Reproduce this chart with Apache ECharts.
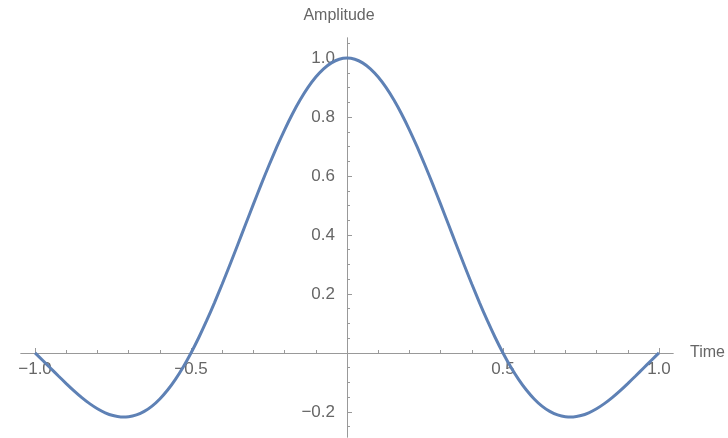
<!DOCTYPE html>
<html>
<head>
<meta charset="utf-8">
<script src="https://cdn.jsdelivr.net/npm/echarts@6/dist/echarts.min.js"></script>
<style>html,body{margin:0;padding:0;background:#fff;}#c{width:728px;height:438px;}</style>
</head>
<body>
<div id="c"></div>
<script>
var times = [-1.0,-0.975,-0.95,-0.925,-0.9,-0.875,-0.85,-0.825,-0.8,-0.775,-0.75,-0.725,-0.7,-0.675,-0.65,-0.625,-0.6,-0.575,-0.55,-0.525,
  -0.5,-0.475,-0.45,-0.425,-0.4,-0.375,-0.35,-0.325,-0.3,-0.275,-0.25,-0.225,-0.2,-0.175,-0.15,-0.125,-0.1,-0.075,-0.05,-0.025,0,
  0.025,0.05,0.075,0.1,0.125,0.15,0.175,0.2,0.225,0.25,0.275,0.3,0.325,0.35,0.375,0.4,0.425,0.45,0.475,
  0.5,0.525,0.55,0.575,0.6,0.625,0.65,0.675,0.7,0.725,0.75,0.775,0.8,0.825,0.85,0.875,0.9,0.925,0.95,0.975,1.0];
var amplitude = [0,-0.0255,-0.0518,-0.0781,-0.1039,-0.1286,-0.1515,-0.1719,-0.1892,-0.2028,-0.2122,-0.2168,-0.2162,-0.2101,-0.1981,-0.1801,-0.1559,-0.1257,-0.0894,-0.0474,
  0,0.0524,0.1093,0.1700,0.2339,0.3001,0.3679,0.4363,0.5046,0.5716,0.6366,0.6987,0.7568,0.8103,0.8584,0.9003,0.9355,0.9634,0.9836,0.9959,1.0,
  0.9959,0.9836,0.9634,0.9355,0.9003,0.8584,0.8103,0.7568,0.6987,0.6366,0.5716,0.5046,0.4363,0.3679,0.3001,0.2339,0.1700,0.1093,0.0524,
  0,-0.0474,-0.0894,-0.1257,-0.1559,-0.1801,-0.1981,-0.2101,-0.2162,-0.2168,-0.2122,-0.2028,-0.1892,-0.1719,-0.1515,-0.1286,-0.1039,-0.0781,-0.0518,-0.0255,0];
var xMajorTicks = [-1.0,-0.5,0.5,1.0];
var xMinorTicks = [-0.9,-0.8,-0.7,-0.6,-0.4,-0.3,-0.2,-0.1,0.1,0.2,0.3,0.4,0.6,0.7,0.8,0.9];
var yMajorTicks = [-0.2,0.2,0.4,0.6,0.8,1.0];
var yMinorTicks = [-0.25,-0.15,-0.1,-0.05,0.05,0.1,0.15,0.25,0.3,0.35,0.45,0.5,0.55,0.65,0.7,0.75,0.85,0.9,0.95,1.05];
var xName = 'Time', yName = 'Amplitude';

var fmt = function (v) { var s = Math.abs(v).toFixed(1); return (v < 0 ? '\u2212' : '') + s; };
var font = '"Liberation Sans", Arial, sans-serif';
var fs = 17, nameFs = 16;
var axisCol = '#999999', txtCol = '#666666';
var xRange = [-1.045, 1.045], yRange = [-0.285, 1.068];
// axis crossing offsets (pixels from grid edge to the zero line)
var xAxisOffset = -84, yAxisOffset = -326;

function xAx(ticks, len, labels, withName) {
  return {
    type: 'value', min: xRange[0], max: xRange[1], gridIndex: 0, position: 'bottom', offset: xAxisOffset,
    name: withName ? xName : '', nameLocation: 'end', nameGap: 17,
    nameTextStyle: { color: txtCol, fontFamily: font, fontSize: nameFs, verticalAlign: 'middle' },
    axisLine: { show: true, onZero: false, lineStyle: { color: axisCol, width: 1 } },
    axisTick: { show: true, inside: true, length: len, customValues: ticks, lineStyle: { color: axisCol } },
    axisLabel: labels ? { show: true, customValues: ticks, formatter: fmt, color: txtCol, fontFamily: font, fontSize: fs, margin: 8 } : { show: false },
    splitLine: { show: false }
  };
}
function yAx(ticks, len, labels, withName) {
  return {
    type: 'value', min: yRange[0], max: yRange[1], gridIndex: 0, position: 'left', offset: yAxisOffset,
    name: withName ? yName : '', nameLocation: 'end', nameGap: 14,
    nameTextStyle: { color: txtCol, fontFamily: font, fontSize: nameFs, padding: [0, 16, 0, 0] },
    axisLine: { show: true, onZero: false, lineStyle: { color: axisCol, width: 1 } },
    axisTick: { show: true, inside: true, length: len, customValues: ticks, lineStyle: { color: axisCol } },
    axisLabel: labels ? { show: true, customValues: ticks, formatter: fmt, color: txtCol, fontFamily: font, fontSize: fs, margin: 12 } : { show: false },
    splitLine: { show: false }
  };
}

var chart = echarts.init(document.getElementById('c'), null, { renderer: 'canvas' });
chart.setOption({
  animation: false,
  backgroundColor: '#ffffff',
  grid: { left: 21, right: 55, top: 38, bottom: 1, containLabel: false, outerBoundsMode: 'none' },
  xAxis: [xAx(xMajorTicks, 5, true, true), xAx(xMinorTicks, 3, false, false)],
  yAxis: [yAx(yMajorTicks, 5, true, true), yAx(yMinorTicks, 3, false, false)],
  series: [{
    type: 'line', xAxisIndex: 0, yAxisIndex: 0,
    data: times.map(function (t, i) { return [t, amplitude[i]]; }),
    smooth: 0.2, showSymbol: false, symbol: 'none',
    lineStyle: { color: '#5E81B5', width: 3 }
  }]
});
</script>
</body>
</html>
